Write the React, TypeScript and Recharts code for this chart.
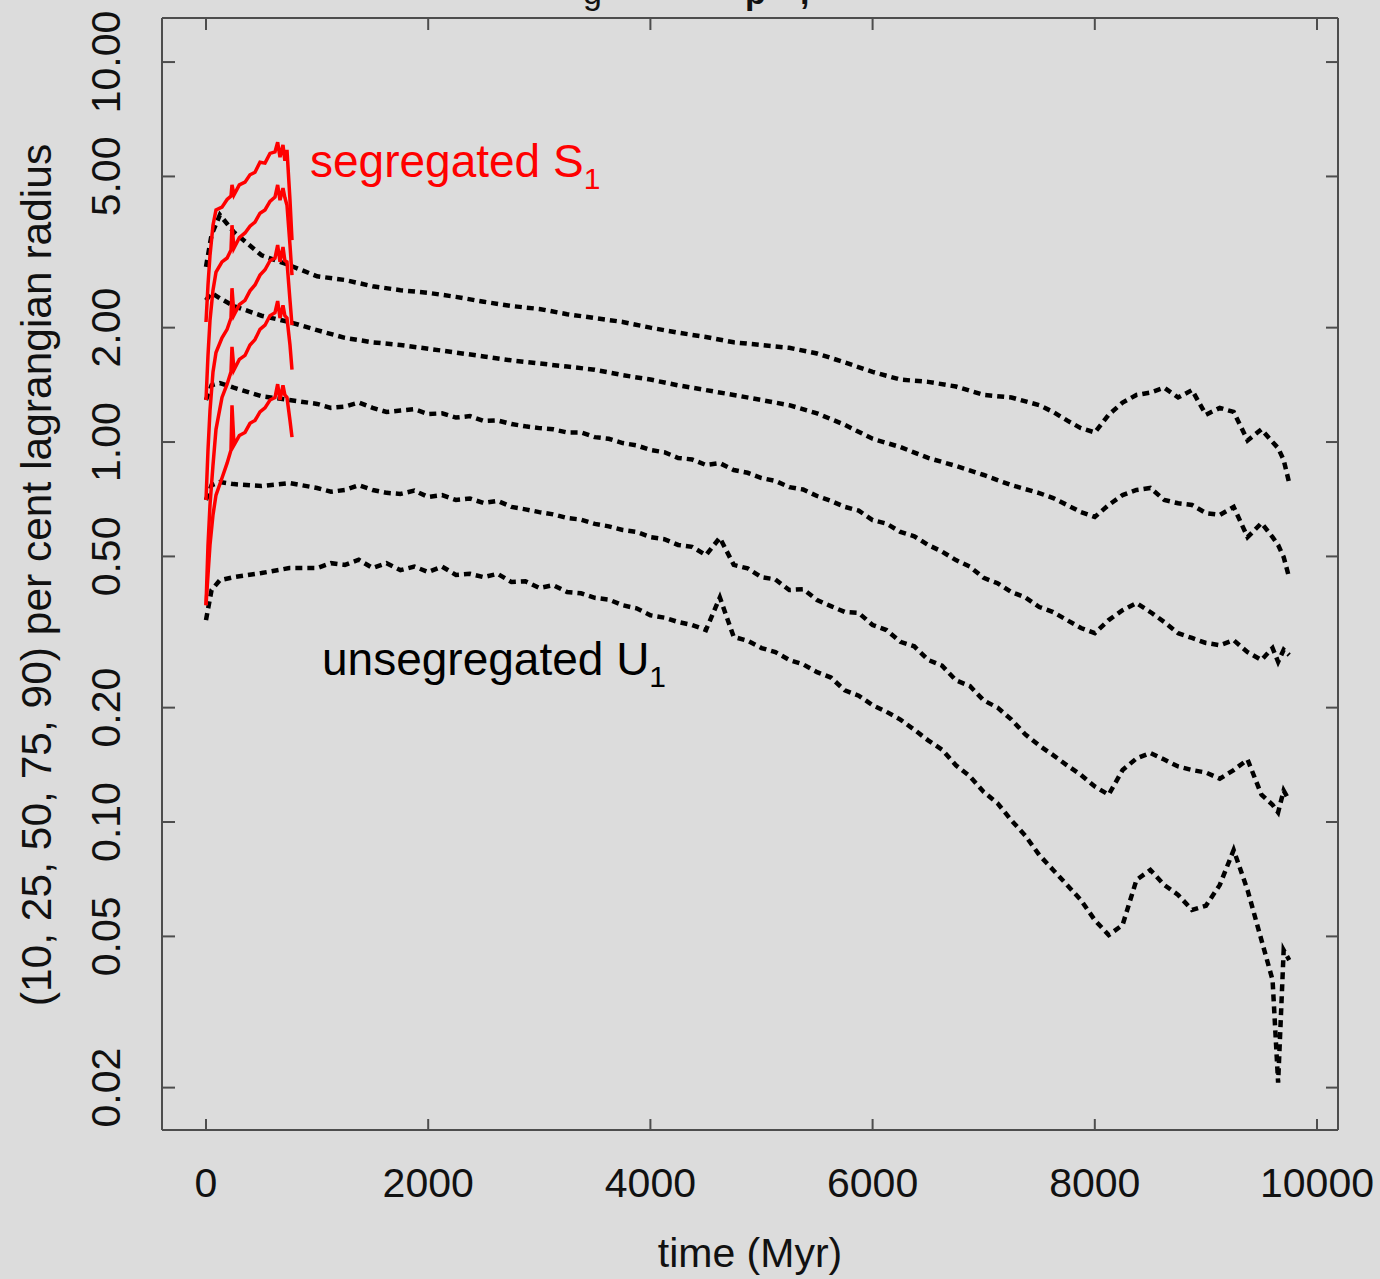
import { LineChart, Line, XAxis, YAxis } from 'recharts'

const W = 1380
const H = 1279
const BG = '#dcdcdc'
const AXIS = '#4d4d4d'
const FONT = '"Liberation Sans", Arial, Helvetica, sans-serif'

// time grid (Myr) for the outer unsegregated U1 radii
const uTimes = [0, 50, 125, 250, 500, 750, 1000, 1250, 1500, 1750, 2000, 2250, 2500, 2750, 3000, 3250, 3500, 3750, 4000, 4250, 4500, 4750, 5000, 5250, 5500, 5750, 6000, 6250, 6500, 6750, 7000, 7250, 7500, 7625, 7750, 7875, 8000, 8125, 8250, 8375, 8500, 8625, 8750, 8875, 9000, 9125, 9250, 9375, 9500, 9600, 9650, 9700, 9750]

// finer grid for the noisier inner radii
const uTimesFine = [0, 50, 125, 250, 500, 750, 1000, 1125, 1250, 1375, 1500, 1625, 1750, 1875, 2000, 2125, 2250, 2375, 2500, 2625, 2750, 2875, 3000, 3125, 3250, 3375, 3500, 3625, 3750, 3875, 4000, 4125, 4250, 4375, 4500, 4625, 4750, 4875, 5000, 5125, 5250, 5375, 5500, 5625, 5750, 5875, 6000, 6125, 6250, 6375, 6500, 6625, 6750, 6875, 7000, 7125, 7250, 7375, 7500, 7625, 7750, 7875, 8000, 8125, 8250, 8375, 8500, 8625, 8750, 8875, 9000, 9125, 9250, 9375, 9500, 9600, 9650, 9700, 9750]

// unsegregated U1, lagrangian radii (pc)
const u90 = [2.89, 3.51, 3.96, 3.57, 3.10, 2.92, 2.73, 2.67, 2.57, 2.51, 2.47, 2.41, 2.34, 2.28, 2.24, 2.17, 2.12, 2.07, 2.00, 1.94, 1.89, 1.83, 1.80, 1.77, 1.71, 1.62, 1.53, 1.46, 1.44, 1.40, 1.33, 1.31, 1.25, 1.20, 1.14, 1.088, 1.06, 1.18, 1.27, 1.33, 1.35, 1.39, 1.31, 1.37, 1.18, 1.23, 1.20, 1.01, 1.08, 1.00, 0.964, 0.897, 0.78]
const u75 = [2.36, 2.47, 2.39, 2.28, 2.15, 2.07, 1.97, 1.88, 1.83, 1.80, 1.76, 1.72, 1.68, 1.64, 1.61, 1.58, 1.55, 1.50, 1.46, 1.41, 1.37, 1.33, 1.29, 1.25, 1.19, 1.11, 1.02, 0.97, 0.908, 0.865, 0.819, 0.77, 0.734, 0.712, 0.683, 0.654, 0.635, 0.683, 0.725, 0.748, 0.757, 0.704, 0.69, 0.683, 0.65, 0.643, 0.675, 0.562, 0.612, 0.562, 0.536, 0.498, 0.439]
const u50 = [1.29, 1.41, 1.43, 1.39, 1.32, 1.29, 1.26, 1.23, 1.24, 1.27, 1.23, 1.20, 1.21, 1.22, 1.185, 1.19, 1.16, 1.17, 1.136, 1.14, 1.115, 1.10, 1.088, 1.08, 1.06, 1.06, 1.03, 1.02, 0.994, 0.98, 0.953, 0.94, 0.908, 0.90, 0.87, 0.88, 0.844, 0.83, 0.804, 0.79, 0.761, 0.75, 0.721, 0.70, 0.675, 0.66, 0.623, 0.61, 0.58, 0.565, 0.536, 0.515, 0.489, 0.47, 0.439, 0.425, 0.403, 0.39, 0.368, 0.357, 0.34, 0.324, 0.314, 0.34, 0.361, 0.377, 0.357, 0.336, 0.314, 0.305, 0.296, 0.292, 0.301, 0.28, 0.267, 0.287, 0.264, 0.284, 0.275]
const u25 = [0.704, 0.77, 0.785, 0.775, 0.766, 0.78, 0.757, 0.74, 0.748, 0.77, 0.748, 0.735, 0.73, 0.745, 0.717, 0.725, 0.704, 0.71, 0.691, 0.70, 0.675, 0.665, 0.654, 0.645, 0.631, 0.625, 0.609, 0.60, 0.587, 0.58, 0.562, 0.555, 0.536, 0.53, 0.504, 0.56, 0.475, 0.465, 0.441, 0.435, 0.408, 0.41, 0.384, 0.37, 0.357, 0.355, 0.33, 0.32, 0.298, 0.29, 0.267, 0.258, 0.236, 0.228, 0.209, 0.20, 0.186, 0.17, 0.159, 0.15, 0.141, 0.133, 0.124, 0.118, 0.137, 0.147, 0.152, 0.146, 0.14, 0.137, 0.135, 0.13, 0.137, 0.146, 0.118, 0.111, 0.106, 0.121, 0.114]
const u10 = [0.34, 0.408, 0.433, 0.441, 0.452, 0.466, 0.466, 0.48, 0.475, 0.49, 0.466, 0.48, 0.46, 0.47, 0.455, 0.47, 0.447, 0.45, 0.441, 0.45, 0.428, 0.43, 0.413, 0.42, 0.403, 0.40, 0.389, 0.385, 0.372, 0.365, 0.35, 0.345, 0.336, 0.33, 0.32, 0.39, 0.307, 0.30, 0.287, 0.28, 0.267, 0.26, 0.248, 0.24, 0.222, 0.215, 0.203, 0.195, 0.186, 0.175, 0.164, 0.155, 0.141, 0.132, 0.12, 0.112, 0.101, 0.092, 0.0819, 0.0748, 0.0683, 0.0623, 0.0552, 0.0504, 0.0536, 0.0704, 0.0748, 0.0683, 0.0643, 0.0587, 0.0602, 0.0683, 0.0844, 0.0662, 0.0489, 0.0384, 0.0206, 0.046, 0.0433]

// segregated S1 only runs to ~780 Myr
const sTimes = [0, 18, 36, 63, 90, 144, 190, 225, 234, 252, 300, 351, 396, 441, 486, 531, 576, 621, 645, 666, 693, 710, 729, 756, 774]
const s90 = [2.07, 2.59, 3.10, 3.72, 4.08, 4.15, 4.35, 4.44, 4.75, 4.47, 4.75, 4.83, 5.05, 5.13, 5.45, 5.42, 5.75, 5.80, 6.15, 5.62, 6.05, 5.5, 5.87, 4.33, 3.40]
const s75 = [1.29, 1.69, 2.09, 2.51, 2.80, 2.98, 3.05, 3.20, 3.72, 3.24, 3.45, 3.55, 3.7, 3.79, 4.0, 4.08, 4.3, 4.41, 4.75, 4.33, 4.66, 4.4, 4.20, 3.30, 2.75]
const s50 = [0.704, 0.953, 1.21, 1.53, 1.72, 1.88, 1.98, 2.12, 2.54, 2.16, 2.3, 2.36, 2.5, 2.59, 2.75, 2.84, 3.0, 3.05, 3.3, 2.98, 3.26, 3.0, 2.98, 2.36, 2.03]
const s25 = [0.372, 0.536, 0.683, 0.87, 1.08, 1.31, 1.42, 1.53, 1.78, 1.55, 1.65, 1.69, 1.8, 1.86, 1.98, 2.03, 2.15, 2.19, 2.35, 2.12, 2.29, 2.15, 2.12, 1.80, 1.55]
const s10 = [0.372, 0.447, 0.536, 0.643, 0.725, 0.804, 0.88, 0.953, 1.25, 0.982, 1.04, 1.06, 1.12, 1.14, 1.2, 1.23, 1.29, 1.31, 1.42, 1.29, 1.41, 1.33, 1.31, 1.14, 1.03]

const xTicks = [0, 2000, 4000, 6000, 8000, 10000]
const yTicks = [0.02, 0.05, 0.1, 0.2, 0.5, 1, 2, 5, 10]

const X_DOMAIN: [number, number] = [-396, 10189]
const Y_DOMAIN: [number, number] = [0.01547, 13.06]

const zip = (ts: number[], vs: number[]) => ts.map((t, i) => ({ t, r: vs[i] }))

const unseg = [zip(uTimes, u90), zip(uTimes, u75), zip(uTimesFine, u50), zip(uTimesFine, u25), zip(uTimesFine, u10)]
const seg = [s90, s75, s50, s25, s10].map(v => zip(sTimes, v))

// eslint-disable-next-line @typescript-eslint/no-explicit-any
const BottomTick = ({ x, y, payload }: any) => (
  <g>
    <line x1={x} y1={y} x2={x} y2={y - 11} stroke={AXIS} strokeWidth={2} />
    <text x={x} y={y + 67} textAnchor="middle" fontSize={41} fontFamily={FONT} fill="#111">{payload.value}</text>
  </g>
)

// eslint-disable-next-line @typescript-eslint/no-explicit-any
const TopTick = ({ x, y }: any) => <line x1={x} y1={y} x2={x} y2={y + 12} stroke={AXIS} strokeWidth={2} />

// eslint-disable-next-line @typescript-eslint/no-explicit-any
const LeftTick = ({ x, y, payload }: any) => (
  <g>
    <line x1={x} y1={y} x2={x + 13} y2={y} stroke={AXIS} strokeWidth={2} />
    <text x={106} y={y} transform={`rotate(-90 106 ${y})`} textAnchor="middle" dominantBaseline="central"
      fontSize={41} fontFamily={FONT} fill="#111">{Number(payload.value).toFixed(2)}</text>
  </g>
)

// eslint-disable-next-line @typescript-eslint/no-explicit-any
const RightTick = ({ x, y }: any) => <line x1={x} y1={y} x2={x - 12} y2={y} stroke={AXIS} strokeWidth={2} />

export default function App() {
  return (
    <div style={{ position: 'absolute', left: 0, top: 0, width: W, height: H, background: BG, overflow: 'hidden' }}>
      <LineChart width={W} height={H} margin={{ top: 0, right: 0, bottom: 0, left: 0 }}>
        <XAxis xAxisId="b" dataKey="t" type="number" domain={X_DOMAIN} allowDataOverflow ticks={xTicks}
          height={149} tickSize={0} tickMargin={0} tick={<BottomTick />} axisLine={{ stroke: AXIS, strokeWidth: 2 }} />
        <XAxis xAxisId="t" orientation="top" dataKey="t" type="number" domain={X_DOMAIN} allowDataOverflow ticks={xTicks}
          height={18} tickSize={0} tickMargin={0} tick={<TopTick />} axisLine={{ stroke: AXIS, strokeWidth: 2 }} />
        <YAxis yAxisId="l" dataKey="r" type="number" scale="log" domain={Y_DOMAIN} allowDataOverflow ticks={yTicks}
          width={162} tickSize={0} tickMargin={0} tick={<LeftTick />} axisLine={{ stroke: AXIS, strokeWidth: 2 }} />
        <YAxis yAxisId="r" orientation="right" dataKey="r" type="number" scale="log" domain={Y_DOMAIN} allowDataOverflow ticks={yTicks}
          width={42} tickSize={0} tickMargin={0} tick={<RightTick />} axisLine={{ stroke: AXIS, strokeWidth: 2 }} />

        {unseg.map((d, i) => (
          <Line key={`u${i}`} data={d} dataKey="r" xAxisId="b" yAxisId="l" type="linear" stroke="#000"
            strokeWidth={4.5} strokeDasharray="7 5" dot={false} isAnimationActive={false} />
        ))}
        {seg.map((d, i) => (
          <Line key={`s${i}`} data={d} dataKey="r" xAxisId="b" yAxisId="l" type="linear" stroke="#ff0000"
            strokeWidth={3.5} dot={false} isAnimationActive={false} />
        ))}
      </LineChart>

      <svg width={W} height={H} style={{ position: 'absolute', left: 0, top: 0, pointerEvents: 'none' }} fontFamily={FONT}>
        <text x={583} y={4} fontSize={34} fill="#111">g</text>
        <text x={745} y={4} fontSize={34} fontWeight="bold" fill="#111">p</text>
        <text x={800} y={4} fontSize={34} fontWeight="bold" fill="#111">,</text>
        <text x={310} y={177} fontSize={46} fill="#ff0000">
          segregated S<tspan fontSize={30} dy={12}>1</tspan>
        </text>
        <text x={322} y={675} fontSize={46} fill="#000">
          unsegregated U<tspan fontSize={30} dy={12}>1</tspan>
        </text>
        <text x={750} y={1267} fontSize={41} textAnchor="middle" fill="#111">time (Myr)</text>
        <text x={36} y={575} transform="rotate(-90 36 575)" fontSize={42.5} textAnchor="middle" dominantBaseline="central" fill="#111">
          (10, 25, 50, 75, 90) per cent lagrangian radius
        </text>
      </svg>
    </div>
  )
}
